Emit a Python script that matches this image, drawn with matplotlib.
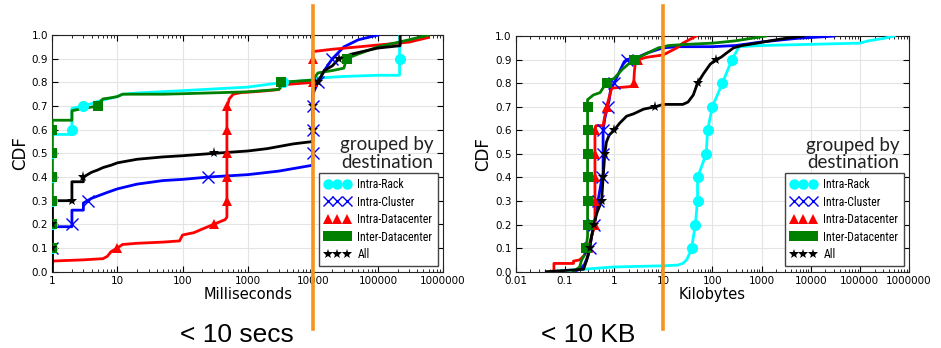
import numpy as np
import matplotlib
matplotlib.use("Agg")
from matplotlib import pyplot as plt
from matplotlib import font_manager
import matplotlib.transforms as mtransforms

# pick a narrow-ish font for the small text if one is around
names = set(f.name for f in font_manager.fontManager.ttflist)
narrow = "Liberation Sans"
for n in ["Liberation Sans Narrow", "DejaVu Sans Condensed", "Roboto Condensed"]:
    if n in names:
        narrow = n
        break

LEVELS = np.arange(0.1, 0.95, 0.1)
SERIES = ["Intra-Rack", "Intra-Cluster", "Intra-Datacenter", "Inter-Datacenter", "All"]

# ---- left: flow duration (ms)
rack_ms_x = [1, 1, 2, 2, 3, 4, 5, 7, 10, 12, 20, 100, 1000, 3500, 10000, 10000, 15000, 30000, 100000, 215000, 215000]
rack_ms_y = [0.0, 0.58, 0.58, 0.69, 0.70, 0.71, 0.72, 0.73, 0.74, 0.75, 0.755, 0.765, 0.78, 0.80, 0.81, 0.815, 0.82, 0.825, 0.83, 0.83, 1.0]
cluster_ms_x = [1, 1, 2, 2, 3, 3, 4, 5, 7, 10, 20, 50, 100, 250, 1000, 3000, 10000, 10000, 12000, 15000, 20000, 30000, 50000, 100000]
cluster_ms_y = [0.04, 0.19, 0.19, 0.26, 0.26, 0.29, 0.31, 0.32, 0.335, 0.35, 0.37, 0.385, 0.39, 0.40, 0.41, 0.425, 0.45, 0.75, 0.80, 0.85, 0.90, 0.95, 0.98, 1.0]
dc_ms_x = [1, 3, 6, 7, 8, 10, 12, 20, 50, 90, 100, 150, 200, 300, 450, 480, 480, 500, 520, 600, 800, 1200, 2000, 3000, 3500, 10000, 10000, 20000, 50000, 120000, 300000, 600000]
dc_ms_y = [0.045, 0.05, 0.055, 0.065, 0.085, 0.10, 0.115, 0.12, 0.125, 0.13, 0.155, 0.165, 0.18, 0.20, 0.22, 0.23, 0.70, 0.71, 0.73, 0.75, 0.757, 0.76, 0.765, 0.77, 0.79, 0.80, 0.93, 0.94, 0.95, 0.96, 0.97, 0.99]
inter_ms_x = [1, 1, 2, 2, 3, 5, 5.5, 6, 8, 10, 12, 50, 100, 1000, 3000, 3200, 3200, 10000, 12000, 20000, 30000, 33000, 50000, 100000, 300000, 600000]
inter_ms_y = [0.0, 0.64, 0.64, 0.68, 0.69, 0.70, 0.72, 0.73, 0.735, 0.74, 0.75, 0.75, 0.752, 0.76, 0.77, 0.78, 0.80, 0.81, 0.84, 0.85, 0.86, 0.90, 0.92, 0.95, 0.98, 1.0]
all_ms_x = [1, 1, 2, 2, 3, 3, 4, 5, 6, 8, 10, 20, 50, 100, 300, 1000, 2000, 5000, 10000, 10000, 12000, 15000, 20000, 25000, 40000, 100000, 220000, 220000]
all_ms_y = [0.0, 0.30, 0.30, 0.38, 0.38, 0.40, 0.42, 0.43, 0.44, 0.45, 0.46, 0.475, 0.485, 0.49, 0.50, 0.51, 0.52, 0.54, 0.55, 0.77, 0.80, 0.85, 0.87, 0.90, 0.92, 0.945, 0.955, 1.0]

# ---- right: flow size (KB)
rack_kb_x = [0.05, 0.1, 0.3, 1, 10, 20, 25, 30, 35, 38, 45, 50, 50, 75, 80, 100, 160, 250, 350, 1000, 10000, 100000, 150000, 300000, 500000]
rack_kb_y = [0.0, 0.005, 0.012, 0.02, 0.025, 0.028, 0.035, 0.05, 0.08, 0.10, 0.20, 0.30, 0.40, 0.50, 0.60, 0.70, 0.80, 0.90, 0.955, 0.96, 0.965, 0.97, 0.98, 0.99, 1.0]
cluster_kb_x = [0.15, 0.2, 0.25, 0.3, 0.32, 0.35, 0.4, 0.45, 0.5, 0.55, 0.6, 0.6, 0.65, 0.74, 0.8, 0.85, 1.0, 1.3, 1.6, 1.8, 3, 5, 10, 20, 100, 300, 1000, 5000, 30000]
cluster_kb_y = [0.0, 0.01, 0.03, 0.07, 0.10, 0.15, 0.20, 0.28, 0.33, 0.38, 0.42, 0.60, 0.65, 0.70, 0.73, 0.77, 0.80, 0.85, 0.89, 0.90, 0.91, 0.93, 0.95, 0.955, 0.955, 0.96, 0.975, 0.99, 1.0]
dc_kb_x = [0.05, 0.06, 0.06, 0.15, 0.15, 0.2, 0.25, 0.3, 0.35, 0.41, 0.41, 0.43, 0.6, 0.65, 0.75, 0.9, 1.0, 2.0, 2.5, 2.6, 2.7, 3.1, 4.6, 10, 19, 25, 47]
dc_kb_y = [0.0, 0.0, 0.035, 0.035, 0.045, 0.05, 0.07, 0.10, 0.15, 0.20, 0.60, 0.62, 0.62, 0.66, 0.72, 0.78, 0.78, 0.785, 0.79, 0.85, 0.88, 0.90, 0.91, 0.92, 0.95, 0.97, 1.0]
inter_kb_x = [0.15, 0.2, 0.22, 0.25, 0.27, 0.29, 0.29, 0.38, 0.52, 0.6, 0.71, 0.8, 1.0, 1.5, 2.5, 4, 8, 13, 30, 100, 300, 600, 1200]
inter_kb_y = [0.0, 0.02, 0.05, 0.07, 0.10, 0.15, 0.73, 0.75, 0.76, 0.78, 0.80, 0.81, 0.82, 0.86, 0.90, 0.92, 0.95, 0.96, 0.965, 0.97, 0.98, 0.99, 1.0]
all_kb_x = [0.042, 0.1, 0.24, 0.28, 0.32, 0.35, 0.39, 0.45, 0.56, 0.6, 0.65, 0.7, 0.8, 1.0, 1.3, 1.8, 2.5, 4, 6.9, 10, 25, 32, 41, 50, 66, 90, 117, 150, 200, 270, 400, 800, 1500, 3000, 7000]
all_kb_y = [0.0, 0.005, 0.01, 0.05, 0.10, 0.15, 0.20, 0.25, 0.30, 0.40, 0.50, 0.55, 0.58, 0.60, 0.63, 0.66, 0.67, 0.69, 0.70, 0.71, 0.71, 0.72, 0.75, 0.80, 0.84, 0.88, 0.90, 0.91, 0.93, 0.95, 0.96, 0.97, 0.98, 0.99, 1.0]

ms_data = [(rack_ms_x, rack_ms_y), (cluster_ms_x, cluster_ms_y), (dc_ms_x, dc_ms_y),
           (inter_ms_x, inter_ms_y), (all_ms_x, all_ms_y)]
kb_data = [(rack_kb_x, rack_kb_y), (cluster_kb_x, cluster_kb_y), (dc_kb_x, dc_kb_y),
           (inter_kb_x, inter_kb_y), (all_kb_x, all_kb_y)]

colors = ["#00ffff", "#0000ff", "#ff0000", "#008000", "#000000"]
markers = ["o", "x", "^", "s", "*"]
msizes = [8, 8, 7.5, 7.5, 8]
ORANGE = "#f7931e"


def draw(ax, data, xlim, xlabel, xticks, xticklabels, orange_x):
    for (x, y), c, m, s, name in zip(data, colors, markers, msizes, SERIES):
        x = np.array(x, dtype=float)
        y = np.array(y, dtype=float)
        ax.plot(x, y, color=c, lw=2, zorder=3)
        # markers where the CDF crosses 0.1, 0.2, ...
        lv = LEVELS[LEVELS >= y[0]]
        mx = np.interp(lv, y, x)
        mew = 1 if m == "x" else 0
        ax.plot(mx, lv, ls="none", marker=m, color=c, ms=s, mew=mew, zorder=4)
        ax.plot([], [], ls="none", marker=m, color=c, ms=s - 0.5, mew=mew, label=name)
    ax.set_xscale("log")
    ax.set_xlim(*xlim)
    ax.set_ylim(0, 1)
    ax.set_yticks(np.arange(0, 1.01, 0.1))
    ax.set_yticklabels(["%.1f" % v for v in np.arange(0, 1.01, 0.1)])
    ax.set_xticks(xticks)
    ax.set_xticklabels(xticklabels)
    ax.grid(True, which="major", color="#e4e4e4", lw=0.8)
    ax.set_axisbelow(True)
    ax.tick_params(which="both", direction="in", top=True, right=True, labelsize=7.5, pad=3)
    ax.tick_params(which="major", length=4)
    ax.tick_params(which="minor", length=2)
    for sp in ax.spines.values():
        sp.set_color("#222222")
    ax.set_xlabel(xlabel, fontsize=10.5, labelpad=1)
    ax.set_ylabel("CDF", fontsize=12, labelpad=2)
    ax.text(0.975, 0.5, "grouped by\ndestination", transform=ax.transAxes, ha="right",
            va="center", fontsize=13.5, family="Lato", linespacing=1.05, color="#222222")
    leg = ax.legend(loc="lower right", numpoints=3, prop={"family": narrow, "size": 8.5},
                    fancybox=False, framealpha=1, edgecolor="#444444", handlelength=2.2,
                    handletextpad=0.6, labelspacing=0.38, borderaxespad=0.45, borderpad=0.45)
    leg.get_frame().set_linewidth(1)
    # orange threshold line, running past the axes
    tr = mtransforms.blended_transform_factory(ax.transData, ax.figure.transFigure)
    ax.plot([orange_x, orange_x], [1 - 6 / 348, 1 - 329 / 348], transform=tr, color=ORANGE,
            lw=2.6, clip_on=False, zorder=10)


fig = plt.figure(figsize=(9.41, 3.48), dpi=100)
ax1 = fig.add_axes([0.0556, 0.2193, 0.4152, 0.680])
ax2 = fig.add_axes([0.548, 0.2193, 0.418, 0.677])

draw(ax1, ms_data, (1, 1e6), "Milliseconds",
     [1, 10, 100, 1000, 10000, 100000, 1000000],
     ["1", "10", "100", "1000", "10000", "100000", "1000000"], 1e4)
draw(ax2, kb_data, (0.01, 1e6), "Kilobytes",
     [0.01, 0.1, 1, 10, 100, 1000, 10000, 100000, 1000000],
     ["0.01", "0.1", "1", "10", "100", "1000", "10000", "100000", "1000000"], 10)

fig.text(0.2515, 1 - 342 / 348, "< 10 secs", ha="center", va="baseline", fontsize=19, family="Liberation Sans")
fig.text(0.6246, 1 - 342 / 348, "< 10 KB", ha="center", va="baseline", fontsize=19, family="Liberation Sans")

fig.savefig("out.png", dpi=100)
